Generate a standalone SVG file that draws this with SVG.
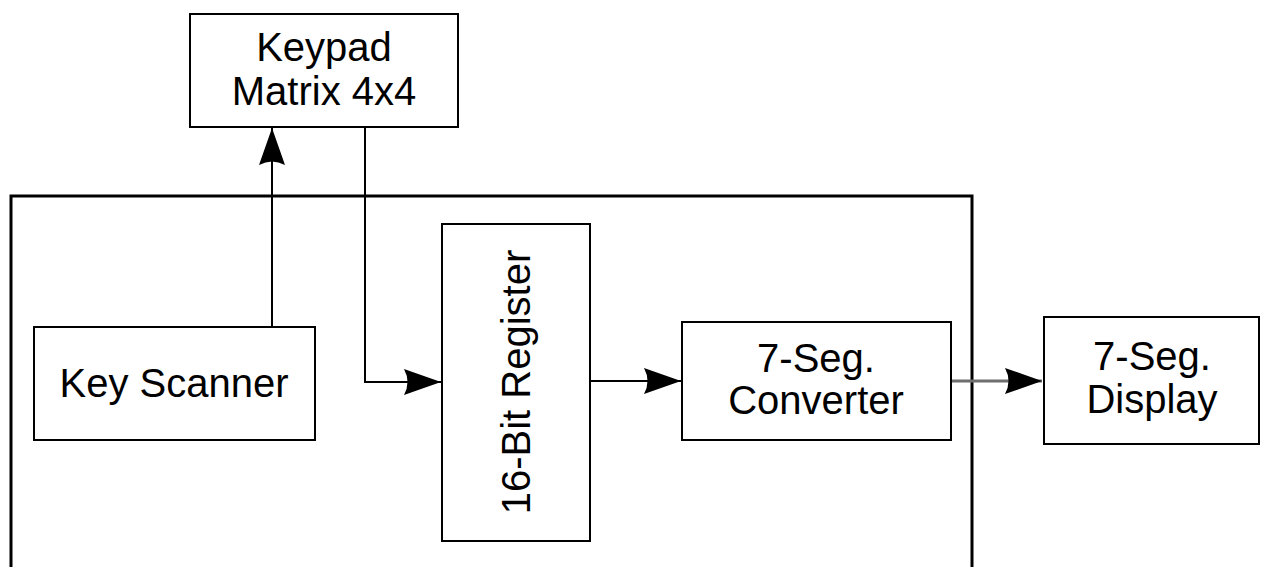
<svg xmlns="http://www.w3.org/2000/svg" width="1261" height="567" viewBox="0 0 1261 567">
  <style>
    .box { fill: #ffffff; stroke: #000000; stroke-width: 2; }
    .frame { fill: none; stroke: #000000; stroke-width: 3; }
    .lbl { font-family: "Liberation Sans", Arial, sans-serif; font-size: 40px; fill: #000000; text-anchor: middle; }
    .wire { fill: none; stroke: #000000; stroke-width: 2; }
    .wire-grey { fill: none; stroke: #6e6e6e; stroke-width: 3; }
  </style>
  <defs>
    <marker id="arrow" markerUnits="userSpaceOnUse" markerWidth="40" markerHeight="30" refX="38" refY="14" orient="auto">
      <path d="M38,14 L1,1 Q8,14 1,27 Z" fill="#000000"/>
    </marker>
  </defs>

  <rect width="1261" height="567" fill="#ffffff"/>

  <!-- enclosing system boundary -->
  <rect class="frame" x="11" y="196" width="961" height="390"/>

  <g id="connectors">
    <path class="wire" d="M272,327 V128" marker-end="url(#arrow)"/>
    <path class="wire" d="M365,127 V382 H441" marker-end="url(#arrow)"/>
    <path class="wire" d="M590,381 H681" marker-end="url(#arrow)"/>
    <path class="wire-grey" d="M951,381 H1042" marker-end="url(#arrow)"/>
  </g>

  <g id="keypad">
    <rect class="box" x="190" y="14" width="268" height="113"/>
    <text class="lbl" x="324" y="61">Keypad</text>
    <text class="lbl" x="324" y="105">Matrix 4x4</text>
  </g>

  <g id="key-scanner">
    <rect class="box" x="34" y="327" width="281" height="113"/>
    <text class="lbl" x="174" y="397">Key Scanner</text>
  </g>

  <g id="register">
    <rect class="box" x="442" y="224" width="148" height="317"/>
    <text class="lbl" transform="translate(530,382) rotate(-90)">16-Bit Register</text>
  </g>

  <g id="converter">
    <rect class="box" x="682" y="322" width="269" height="118"/>
    <text class="lbl" x="816" y="372">7-Seg.</text>
    <text class="lbl" x="816" y="414">Converter</text>
  </g>

  <g id="display">
    <rect class="box" x="1044" y="317" width="215" height="127"/>
    <text class="lbl" x="1152" y="370">7-Seg.</text>
    <text class="lbl" x="1152" y="413">Display</text>
  </g>
</svg>
